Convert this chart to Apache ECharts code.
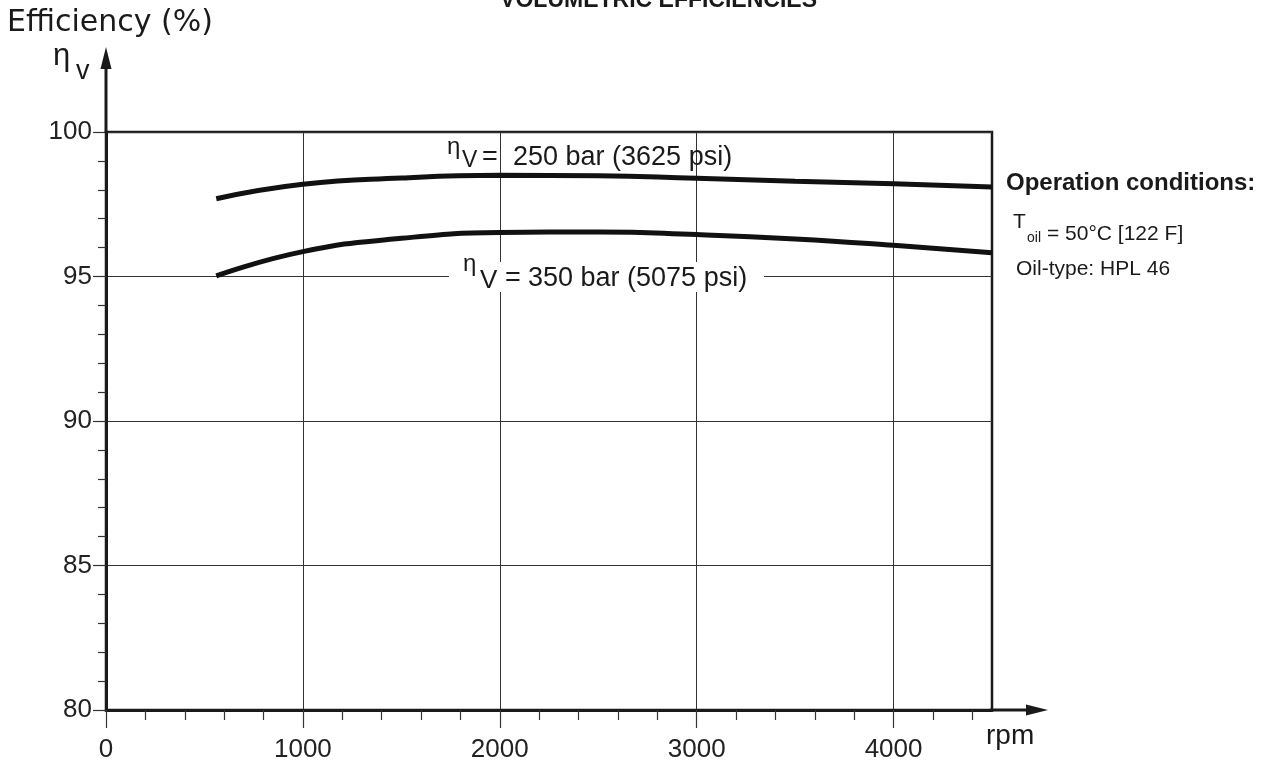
<!DOCTYPE html>
<html>
<head>
<meta charset="utf-8">
<title>Volumetric efficiencies</title>
<script src="https://cdn.jsdelivr.net/npm/echarts@6/dist/echarts.min.js"></script>
<style>
html, body { margin: 0; padding: 0; background: #fff; }
#main { width: 1264px; height: 767px; }
</style>
</head>
<body>
<div id="main"></div>
<script>
var rpm = [560, 1000, 1500, 2000, 2500, 3000, 3500, 4000, 4500];
var eff250 = [97.69, 98.19, 98.41, 98.50, 98.49, 98.40, 98.30, 98.21, 98.10];
var eff350 = [95.02, 95.86, 96.32, 96.52, 96.54, 96.45, 96.30, 96.08, 95.82];
var xTicks = [0, 1000, 2000, 3000, 4000];
var xMinorTicks = [200, 400, 600, 800, 1200, 1400, 1600, 1800, 2200, 2400, 2600, 2800,
    3200, 3400, 3600, 3800, 4200, 4400];

var FONT = '"Liberation Sans", Arial, sans-serif';
var INK = '#1a1a1a';

function pairs(xs, ys) {
    var out = [];
    for (var i = 0; i < xs.length; i++) out.push([xs[i], ys[i]]);
    return out;
}

function txt(x, y, s, size, extra) {
    var style = { text: s, fontSize: size, fontFamily: FONT, fill: INK, align: 'left', verticalAlign: 'middle' };
    for (var k in extra) style[k] = extra[k];
    return { type: 'text', x: x, y: y, z: 10, style: style };
}

var chart = echarts.init(document.getElementById('main'));
var option = {
    animation: false,
    backgroundColor: '#fff',
    grid: {
        left: 106, right: 272, top: 132, bottom: 57,
        show: true, borderColor: INK, borderWidth: 2.5, backgroundColor: 'transparent'
    },
    xAxis: [{
        type: 'value', min: 0, max: 4500, interval: 1000, position: 'bottom',
        axisLine: { show: true, lineStyle: { color: INK, width: 3 } },
        axisTick: { show: true, length: 18, customValues: xTicks, lineStyle: { color: '#333', width: 1.2 } },
        axisLabel: {
            customValues: xTicks, fontSize: 26, fontFamily: FONT, color: '#222', margin: 27,
            formatter: function (v) { return v === 4500 ? '' : v; }
        },
        splitLine: { show: true, lineStyle: { color: '#333', width: 1 } }
    }, {
        type: 'value', min: 0, max: 4500, position: 'bottom', offset: 0,
        axisLine: { show: false },
        axisTick: { show: true, length: 10, customValues: xMinorTicks, lineStyle: { color: '#333', width: 1.2 } },
        axisLabel: { show: false },
        splitLine: { show: false }
    }],
    yAxis: {
        type: 'value', min: 80, max: 100, interval: 5,
        axisLine: { show: true, lineStyle: { color: INK, width: 3 } },
        axisTick: { show: true, length: 13, lineStyle: { color: '#333', width: 1.2 } },
        minorTick: { show: true, splitNumber: 5, length: 8, lineStyle: { color: '#333', width: 1.2 } },
        axisLabel: { fontSize: 26, fontFamily: FONT, color: '#222', margin: 14 },
        splitLine: { show: true, lineStyle: { color: '#333', width: 1 } }
    },
    series: [{
        name: '250 bar', type: 'line', data: pairs(rpm, eff250),
        smooth: 0.5, showSymbol: false, lineStyle: { color: '#111', width: 5 }, z: 5
    }, {
        name: '350 bar', type: 'line', data: pairs(rpm, eff350),
        smooth: 0.5, showSymbol: false, lineStyle: { color: '#111', width: 5 }, z: 5
    }],
    graphic: [
        // axis extensions and arrows
        { type: 'line', z: 9, shape: { x1: 106, y1: 133, x2: 106, y2: 62 }, style: { stroke: INK, lineWidth: 3 } },
        { type: 'polygon', z: 9, shape: { points: [[106, 47], [100.5, 69], [111.5, 69]] }, style: { fill: INK } },
        { type: 'line', z: 9, shape: { x1: 990, y1: 710, x2: 1032, y2: 710 }, style: { stroke: INK, lineWidth: 3 } },
        { type: 'polygon', z: 9, shape: { points: [[1048, 710], [1026, 704.5], [1026, 715.5]] }, style: { fill: INK } },
        // title and axis names
        txt(817, 1, 'VOLUMETRIC EFFICIENCIES', 23, { fontWeight: 'bold', align: 'right' }),
        txt(7, 23, 'Efficiency (%)', 30, { fontFamily: '"DejaVu Sans", sans-serif' }),
        txt(53, 56, '\u03b7', 31),
        txt(76, 72, 'v', 27),
        txt(986, 736, 'rpm', 28),
        // curve labels
        txt(447, 147, '\u03b7', 24),
        txt(462, 161, 'V', 23),
        txt(482, 158, '=', 27),
        txt(513, 158, '250 bar (3625 psi)', 27),
        { type: 'rect', z: 8, shape: { x: 449, y: 262, width: 315, height: 30 }, style: { fill: '#fff' } },
        txt(463, 264, '\u03b7', 24),
        txt(480, 281, 'V', 26),
        txt(505, 279, '=', 27),
        txt(528, 279, '350 bar (5075 psi)', 27),
        // operating conditions
        txt(1006, 183, 'Operation conditions:', 24, { fontWeight: 'bold' }),
        txt(1013, 222, 'T', 21),
        txt(1027, 238, 'oil', 14),
        txt(1047, 234, '= 50\u00b0C [122 F]', 21),
        txt(1016, 269, 'Oil-type: HPL 46', 21)
    ]
};
chart.setOption(option);
</script>
</body>
</html>
